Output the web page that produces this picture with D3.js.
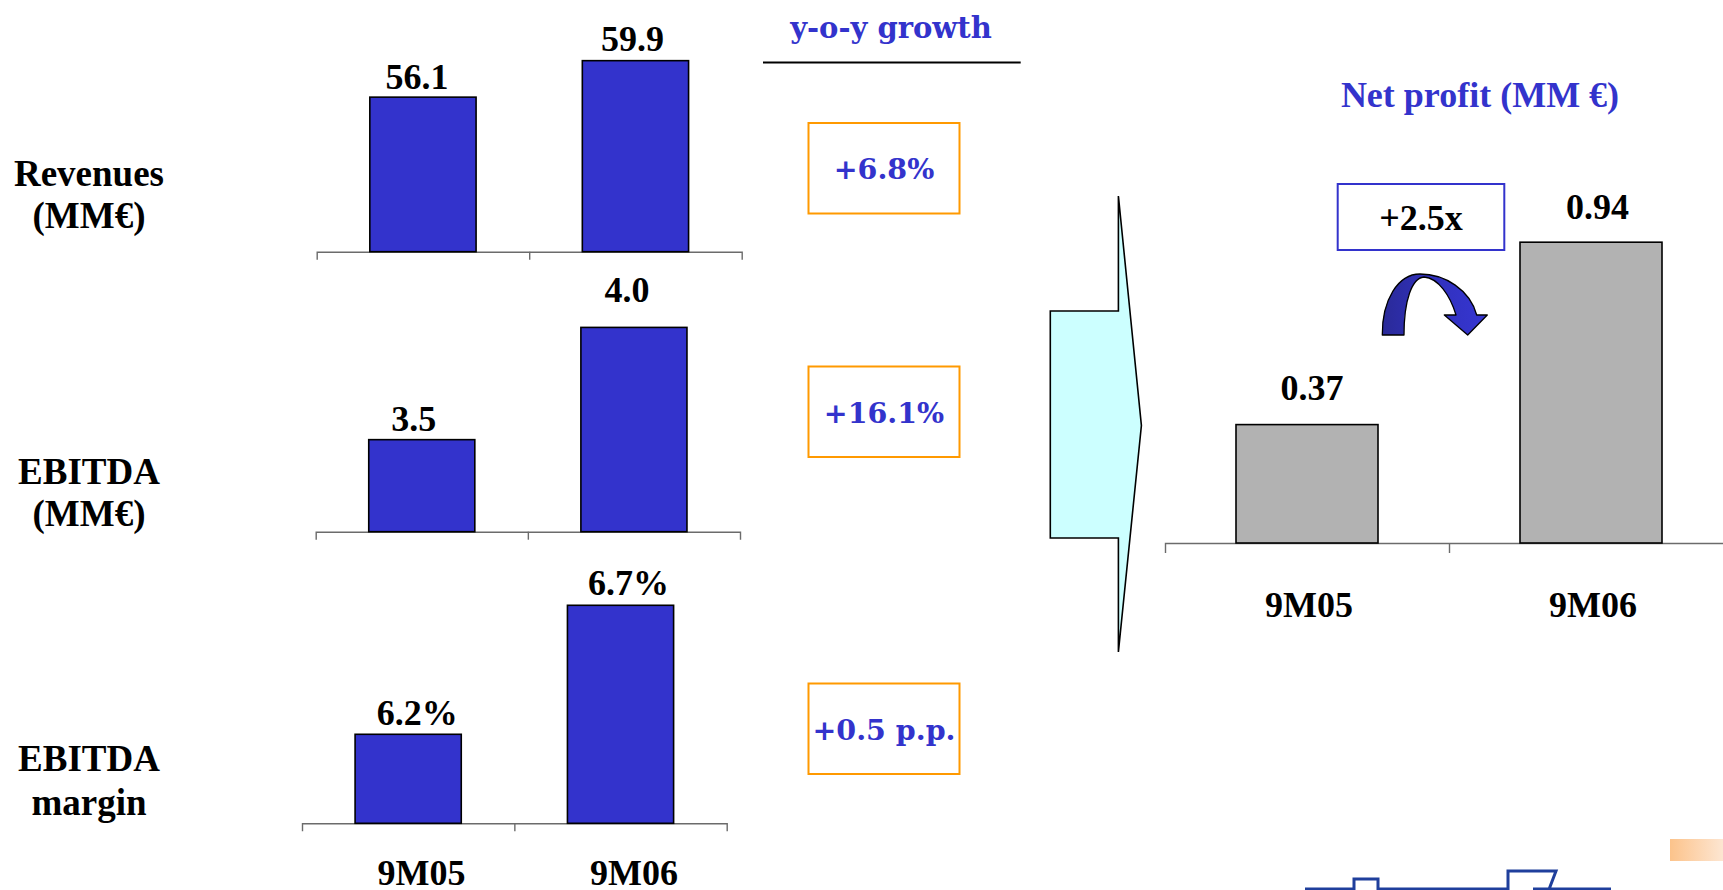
<!DOCTYPE html>
<html>
<head>
<meta charset="utf-8">
<script src="https://cdn.jsdelivr.net/npm/d3@7"></script>
<style>
  html, body { margin: 0; padding: 0; background: #fff; overflow: hidden; }
  svg { display: block; }
</style>
</head>
<body>
<svg id="chart" width="1723" height="890"></svg>
<script>
// ---- data ----
const periods = ["9M05", "9M06"];
const revenues = [56.1, 59.9];        // MM€
const ebitda = [3.5, 4.0];            // MM€
const ebitdaMargin = [6.2, 6.7];      // %
const netProfit = [0.37, 0.94];       // MM€
const growthLabels = ["+6.8%", "+16.1%", "+0.5 p.p."];
const netProfitMultiple = "+2.5x";
const rowTitles = [["Revenues", "(MM€)"], ["EBITDA", "(MM€)"], ["EBITDA", "margin"]];
const growthTitle = "y-o-y growth";
const netProfitTitle = "Net profit (MM €)";

// ---- styles ----
const BLUE = "#3333cc";
const SERIF = "'Liberation Serif', 'Times New Roman', serif";
const WIDE_SERIF = "'DejaVu Serif', serif";

const svg = d3.select("#chart");
const defs = svg.append("defs");

// ---- footer decoration (drawn first, sits behind everything) ----
const foot = svg.append("g");
const fgrad = defs.append("linearGradient").attr("id", "footFill");
fgrad.append("stop").attr("offset", "0%").attr("stop-color", "#fcc38b");
fgrad.append("stop").attr("offset", "100%").attr("stop-color", "#fde6d2");
foot.append("rect").attr("x", 1670).attr("y", 839).attr("width", 53).attr("height", 22).attr("fill", "url(#footFill)");
const logo = d3.path();
logo.moveTo(1305, 889); logo.lineTo(1354, 889); logo.lineTo(1354, 879); logo.lineTo(1378, 879);
logo.lineTo(1378, 889); logo.lineTo(1508, 889); logo.lineTo(1508, 871); logo.lineTo(1556, 871);
logo.lineTo(1548, 892);
logo.moveTo(1533, 889); logo.lineTo(1611, 889);
foot.append("path").attr("d", logo.toString())
  .attr("fill", "none").attr("stroke", "#1f3f9c").attr("stroke-width", 3);

// ---- left block: three small bar charts ----
const panels = [
  { values: revenues, fmt: d => d.toFixed(1), domain: [40, 60], range: [251.7, 59.7],
    x: [316.7, 741.7], lift: [8.5, 9.5], dx: [-6, -3], titleY: [186, 228] },
  { values: ebitda, fmt: d => d.toFixed(1), domain: [3.09, 4.09], range: [531.7, 307.2],
    x: [315.7, 740], lift: [9, 25.5], dx: [-8, -7], titleY: [484, 526] },
  { values: ebitdaMargin, fmt: d => d.toFixed(1) + "%", domain: [5.855, 6.855], range: [823.3, 565.3],
    x: [302, 726.7], lift: [9, 10], dx: [9, 8], titleY: [771, 815] }
];

panels.forEach((p, i) => {
  const x = d3.scaleBand().domain(periods).range(p.x).paddingInner(0.5).paddingOuter(0.25);
  const y = d3.scaleLinear().domain(p.domain).range(p.range);
  const g = svg.append("g");
  const base = p.range[0];

  // category axis with ticks on the band boundaries
  const edge = d3.scaleLinear().domain([0, periods.length]).range(p.x);
  const axis = g.append("g")
    .attr("transform", `translate(0,${base})`)
    .call(d3.axisBottom(edge).tickValues([1]).tickSize(8).tickFormat(""));
  axis.selectAll("path, line").attr("stroke", "#6b6b6b").attr("stroke-width", 1.4);

  g.selectAll("rect.bar").data(p.values).join("rect")
    .attr("class", "bar")
    .attr("x", (d, j) => x(periods[j]))
    .attr("width", x.bandwidth())
    .attr("y", d => y(d))
    .attr("height", d => base - y(d))
    .attr("fill", BLUE)
    .attr("stroke", "#000")
    .attr("stroke-width", 1.6);

  g.selectAll("text.val").data(p.values).join("text")
    .attr("class", "val")
    .attr("x", (d, j) => x(periods[j]) + x.bandwidth() / 2 + p.dx[j])
    .attr("y", (d, j) => y(d) - p.lift[j])
    .attr("text-anchor", "middle")
    .attr("font-family", SERIF).attr("font-weight", "bold").attr("font-size", 36)
    .attr("fill", "#000")
    .text(p.fmt);

  // row title on the far left
  g.selectAll("text.row").data(rowTitles[i]).join("text")
    .attr("class", "row")
    .attr("x", 89)
    .attr("y", (d, j) => p.titleY[j])
    .attr("text-anchor", "middle")
    .attr("font-family", SERIF).attr("font-weight", "bold").attr("font-size", 37)
    .attr("fill", "#000")
    .text(d => d);
});

// period labels under the left block
const xLeft = d3.scaleBand().domain(periods).range(panels[0].x).paddingInner(0.5).paddingOuter(0.25);
svg.append("g").selectAll("text").data(periods).join("text")
  .attr("x", d => xLeft(d) + xLeft.bandwidth() / 2 - 1.5)
  .attr("y", 885)
  .attr("text-anchor", "middle")
  .attr("font-family", SERIF).attr("font-weight", "bold").attr("font-size", 36)
  .text(d => d);

// ---- growth column ----
const growth = svg.append("g");
growth.append("text")
  .attr("x", 891).attr("y", 38)
  .attr("text-anchor", "middle")
  .attr("font-family", WIDE_SERIF).attr("font-weight", "bold").attr("font-size", 29)
  .attr("fill", BLUE)
  .text(growthTitle);
growth.append("line")
  .attr("x1", 763).attr("x2", 1020.7).attr("y1", 62.5).attr("y2", 62.5)
  .attr("stroke", "#000").attr("stroke-width", 2);

const boxTops = [123, 366.5, 683.5];
const boxH = 90.5;
growth.selectAll("rect.gbox").data(growthLabels).join("rect")
  .attr("class", "gbox")
  .attr("x", 808.5).attr("width", 151)
  .attr("y", (d, i) => boxTops[i]).attr("height", boxH)
  .attr("fill", "#fff").attr("stroke", "#ff9900").attr("stroke-width", 2);
growth.selectAll("text.gval").data(growthLabels).join("text")
  .attr("class", "gval")
  .attr("x", 884)
  .attr("y", (d, i) => boxTops[i] + boxH / 2 + 11)
  .attr("text-anchor", "middle")
  .attr("font-family", WIDE_SERIF).attr("font-weight", "bold").attr("font-size", 28.5)
  .attr("fill", BLUE)
  .text(d => d);

// ---- big cyan pointer ----
svg.append("polygon")
  .attr("points", [[1050.3, 311], [1118.4, 311], [1118.4, 196], [1141.4, 425.5],
                   [1118.4, 652], [1118.4, 538], [1050.3, 538]].map(p => p.join(",")).join(" "))
  .attr("fill", "#ccffff").attr("stroke", "#000").attr("stroke-width", 1.6)
  .attr("stroke-linejoin", "miter");

// ---- net profit chart ----
const xN = d3.scaleBand().domain(periods).range([1165, 1733]).paddingInner(0.5).paddingOuter(0.25);
const yN = d3.scaleLinear().domain([0, 1]).range([543, 223]);
const net = svg.append("g");

const edgeN = d3.scaleLinear().domain([0, periods.length]).range(xN.range());
const axN = net.append("g")
  .attr("transform", `translate(0,${yN(0)})`)
  .call(d3.axisBottom(edgeN).tickValues([1]).tickSize(10).tickFormat(""));
axN.selectAll("path, line").attr("stroke", "#6b6b6b").attr("stroke-width", 1.4);

net.selectAll("rect.bar").data(netProfit).join("rect")
  .attr("class", "bar")
  .attr("x", (d, j) => xN(periods[j]))
  .attr("width", xN.bandwidth())
  .attr("y", d => yN(d))
  .attr("height", d => yN(0) - yN(d))
  .attr("fill", "#b2b2b2").attr("stroke", "#000").attr("stroke-width", 1.6);

const netLift = [25, 23], netDx = [5, 6.5];
net.selectAll("text.val").data(netProfit).join("text")
  .attr("class", "val")
  .attr("x", (d, j) => xN(periods[j]) + xN.bandwidth() / 2 + netDx[j])
  .attr("y", (d, j) => yN(d) - netLift[j])
  .attr("text-anchor", "middle")
  .attr("font-family", SERIF).attr("font-weight", "bold").attr("font-size", 36)
  .text(d => d.toFixed(2));

net.selectAll("text.cat").data(periods).join("text")
  .attr("class", "cat")
  .attr("x", d => xN(d) + xN.bandwidth() / 2 + 2)
  .attr("y", 616.6)
  .attr("text-anchor", "middle")
  .attr("font-family", SERIF).attr("font-weight", "bold").attr("font-size", 36)
  .text(d => d);

net.append("text")
  .attr("x", 1480).attr("y", 107)
  .attr("text-anchor", "middle")
  .attr("font-family", SERIF).attr("font-weight", "bold").attr("font-size", 36)
  .attr("fill", BLUE)
  .text(netProfitTitle);

// multiple callout between the two bars
const mid = xN.range()[0] + xN.step();
net.append("rect")
  .attr("x", mid - 111.3).attr("y", 184).attr("width", 166.6).attr("height", 66)
  .attr("fill", "#fff").attr("stroke", BLUE).attr("stroke-width", 2);
net.append("text")
  .attr("x", mid - 28).attr("y", 229.5)
  .attr("text-anchor", "middle")
  .attr("font-family", SERIF).attr("font-weight", "bold").attr("font-size", 36)
  .text(netProfitMultiple);

// curved arrow from the first bar to the second
const grad = defs.append("linearGradient").attr("id", "arrowFill")
  .attr("x1", "0%").attr("x2", "100%").attr("y1", "0%").attr("y2", "0%");
grad.append("stop").attr("offset", "0%").attr("stop-color", "#2a2a98");
grad.append("stop").attr("offset", "45%").attr("stop-color", "#3030bb");
grad.append("stop").attr("offset", "100%").attr("stop-color", "#3636d2");

const arrow = d3.path();
arrow.moveTo(-66.7, 0);
arrow.bezierCurveTo(-67, -35, -51, -61, -29, -61);
arrow.bezierCurveTo(-4, -61, 21, -45, 27.7, -20);
arrow.lineTo(38.3, -20);
arrow.lineTo(18.7, 0);
arrow.lineTo(-4.7, -20);
arrow.lineTo(7, -20);
arrow.bezierCurveTo(1, -40, -11, -57, -25, -58);
arrow.bezierCurveTo(-37, -57, -45, -35, -45, 0);
arrow.closePath();
net.append("path")
  .attr("d", arrow.toString())
  .attr("transform", `translate(${mid},335)`)
  .attr("fill", "url(#arrowFill)").attr("stroke", "#000").attr("stroke-width", 1.3)
  .attr("stroke-linejoin", "round");
</script>
</body>
</html>
